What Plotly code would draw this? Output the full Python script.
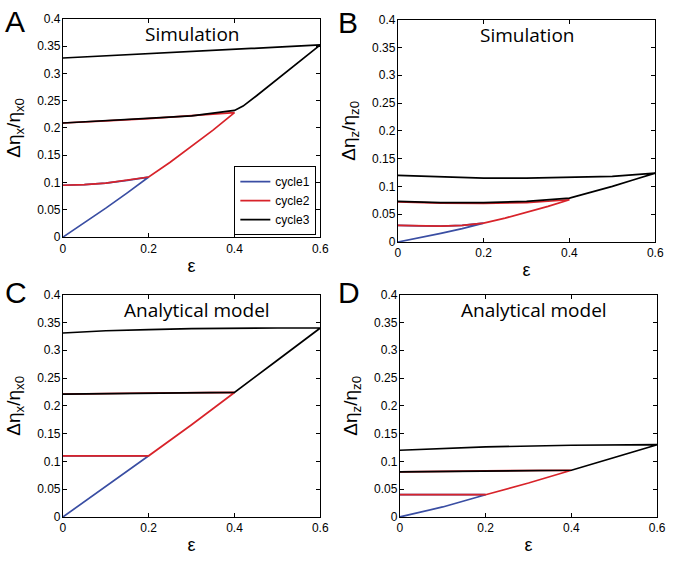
import plotly.graph_objects as go

# ---------------- data ----------------
# Panel A (simulation, x)
A_c1_x = [0, 0.05, 0.1, 0.15, 0.2, 0.15, 0.1, 0.05, 0]
A_c1_y = [0, 0.026, 0.053, 0.081, 0.11, 0.104, 0.099, 0.096, 0.095]
A_c2_x = [0, 0.05, 0.1, 0.15, 0.2, 0.25, 0.3, 0.35, 0.4, 0.3, 0.2, 0.1, 0]
A_c2_y = [0.095, 0.096, 0.099, 0.104, 0.11, 0.137, 0.166, 0.196, 0.228, 0.222, 0.217, 0.213, 0.209]
A_c3_x = [0, 0.1, 0.2, 0.3, 0.4, 0.42, 0.45, 0.5, 0.55, 0.6, 0.5, 0.4, 0.3, 0.2, 0.1, 0]
A_c3_y = [0.209, 0.213, 0.217, 0.222, 0.232, 0.24, 0.258, 0.289, 0.32, 0.352, 0.348, 0.344, 0.340, 0.336, 0.332, 0.328]

# Panel B (simulation, z)
B_c1_x = [0, 0.05, 0.1, 0.15, 0.2, 0.15, 0.1, 0.05, 0]
B_c1_y = [0, 0.0075, 0.0155, 0.024, 0.034, 0.030, 0.0285, 0.029, 0.030]
B_c2_x = [0, 0.05, 0.1, 0.15, 0.2, 0.25, 0.3, 0.35, 0.4, 0.3, 0.2, 0.1, 0]
B_c2_y = [0.030, 0.029, 0.0285, 0.030, 0.034, 0.043, 0.053, 0.064, 0.076, 0.071, 0.0695, 0.070, 0.072]
B_c3_x = [0, 0.1, 0.2, 0.3, 0.4, 0.45, 0.5, 0.55, 0.6, 0.5, 0.4, 0.3, 0.2, 0.1, 0]
B_c3_y = [0.073, 0.071, 0.071, 0.073, 0.079, 0.089, 0.100, 0.112, 0.124, 0.118, 0.116, 0.115, 0.115, 0.117, 0.120]

# Panel C (analytical model, x)
C_c1_x = [0, 0.1, 0.2, 0.1, 0]
C_c1_y = [0, 0.055, 0.11, 0.11, 0.11]
C_c2_x = [0, 0.1, 0.2, 0.3, 0.4, 0.2, 0]
C_c2_y = [0.11, 0.11, 0.11, 0.166, 0.224, 0.223, 0.221]
C_c3_x = [0, 0.2, 0.4, 0.5, 0.6, 0.5, 0.4, 0.3, 0.2, 0.1, 0]
C_c3_y = [0.221, 0.223, 0.224, 0.282, 0.34, 0.340, 0.340, 0.339, 0.337, 0.335, 0.331]

# Panel D (analytical model, z)
D_c1_x = [0, 0.1, 0.2, 0.1, 0]
D_c1_y = [0, 0.018, 0.040, 0.040, 0.040]
D_c2_x = [0, 0.1, 0.2, 0.3, 0.4, 0.2, 0]
D_c2_y = [0.040, 0.040, 0.040, 0.061, 0.084, 0.083, 0.081]
D_c3_x = [0, 0.2, 0.4, 0.5, 0.6, 0.4, 0.2, 0]
D_c3_y = [0.081, 0.083, 0.084, 0.107, 0.130, 0.129, 0.126, 0.120]

cycle_names = ["cycle1", "cycle2", "cycle3"]
cycle_colors = ["#3a4ea3", "#d8232a", "#000000"]

x_tickvals = [0, 0.2, 0.4, 0.6]
x_ticktext = ["0", "0.2", "0.4", "0.6"]
y_tickvals = [0, 0.05, 0.1, 0.15, 0.2, 0.25, 0.3, 0.35, 0.4]
y_ticktext = ["0", "0.05", "0.1", "0.15", "0.2", "0.25", "0.3", "0.35", "0.4"]

panel_letters = ["A", "B", "C", "D"]
panel_titles = ["Simulation", "Simulation", "Analytical model", "Analytical model"]
y_titles = ["Δη<sub>x</sub>/η<sub>x0</sub>", "Δη<sub>z</sub>/η<sub>z0</sub>",
            "Δη<sub>x</sub>/η<sub>x0</sub>", "Δη<sub>z</sub>/η<sub>z0</sub>"]
x_title = "ε"

panels = [
    [(A_c1_x, A_c1_y), (A_c2_x, A_c2_y), (A_c3_x, A_c3_y)],
    [(B_c1_x, B_c1_y), (B_c2_x, B_c2_y), (B_c3_x, B_c3_y)],
    [(C_c1_x, C_c1_y), (C_c2_x, C_c2_y), (C_c3_x, C_c3_y)],
    [(D_c1_x, D_c1_y), (D_c2_x, D_c2_y), (D_c3_x, D_c3_y)],
]

# ---------------- layout geometry (pixels) ----------------
W, H = 677, 561
boxes = [  # left, right, top, bottom
    (61, 323, 12, 236),
    (402, 664, 13, 241),
    (61, 323, 295, 523),
    (404, 666, 295, 523),
]

fig = go.Figure()
FONT = "Liberation Sans, Arial, sans-serif"

for i, cycles in enumerate(panels):
    suffix = "" if i == 0 else str(i + 1)
    for j, (xs, ys) in enumerate(cycles):
        fig.add_trace(go.Scatter(
            x=xs, y=ys, mode="lines",
            line=dict(color=cycle_colors[j], width=1.7),
            name=cycle_names[j], showlegend=(i == 0),
            xaxis="x" + suffix, yaxis="y" + suffix,
        ))
    l, r, t, b = boxes[i]
    ax_common = dict(showline=True, linecolor="black", linewidth=1, mirror="ticks",
                     ticks="inside", ticklen=4, tickcolor="black", showgrid=False,
                     zeroline=False, tickfont=dict(family=FONT, size=12, color="black"))
    fig.update_layout(**{
        "xaxis" + suffix: dict(domain=[l / W, r / W], range=[0, 0.6], anchor="y" + suffix,
                               tickvals=x_tickvals, ticktext=x_ticktext,
                               title=dict(text=x_title, font=dict(family=FONT, size=18, color="black"), standoff=4),
                               **ax_common),
        "yaxis" + suffix: dict(domain=[1 - b / H, 1 - t / H], range=[0, 0.4], anchor="x" + suffix,
                               tickvals=y_tickvals, ticktext=y_ticktext, ticklabelstandoff=-1,
                               title=dict(text=y_titles[i], font=dict(family=FONT, size=19, color="black"), standoff=11),
                               **ax_common),
    })
    # panel title inside plot
    fig.add_annotation(x=(l + r) / 2 / W + (0.008 if i >= 2 else 0), y=1 - (t + 16) / H,
                       xref="paper", yref="paper", text=panel_titles[i], showarrow=False,
                       font=dict(family="Open Sans, sans-serif", size=19, color="black"),
                       xanchor="center", yanchor="middle")
    # panel letter
    fig.add_annotation(x=(l - 61) / W if i % 2 == 0 else 339 / W, y=1 - (t - 12) / H + (0.0 if i < 2 else 0.009),
                       xref="paper", yref="paper", text=panel_letters[i], showarrow=False,
                       font=dict(family=FONT, size=30, color="black"),
                       xanchor="left", yanchor="top", yshift=4)

fig.update_layout(
    width=W, height=H,
    margin=dict(l=0, r=0, t=0, b=0),
    paper_bgcolor="white", plot_bgcolor="white",
    showlegend=True,
    legend=dict(x=319 / W, y=1 - 234 / H, xanchor="right", yanchor="bottom",
                bordercolor="black", borderwidth=1, bgcolor="white",
                font=dict(family=FONT, size=12, color="black"),
                tracegroupgap=0, itemwidth=30),
)

fig.write_html("out.html", post_script="document.body.style.margin='0';",
               config={"displayModeBar": False})
